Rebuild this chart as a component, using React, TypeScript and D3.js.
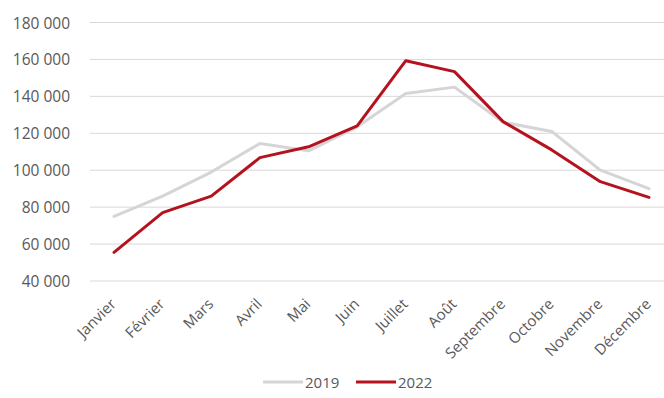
import React from "react";
import * as d3 from "d3";

const months = ["Janvier","Février","Mars","Avril","Mai","Juin","Juillet","Août","Septembre","Octobre","Novembre","Décembre"];
const values2019 = [75000, 86000, 99000, 114500, 110500, 123500, 141500, 145000, 126000, 121000, 100000, 90000];
const values2022 = [55500, 77000, 86000, 106800, 112700, 124000, 159300, 153400, 126300, 111000, 93800, 85300];
const yTicks = [40000, 60000, 80000, 100000, 120000, 140000, 160000, 180000];
const seriesNames = ["2019", "2022"];
const seriesColors = ["#d5d5d5", "#b5121f"];

const W = 664, H = 398;
const FONT = "'Open Sans', 'Noto Sans', sans-serif";

export default function App() {
  const x = d3.scalePoint<string>().domain(months).range([114, 649]);
  const y = d3.scaleLinear().domain([40000, 180000]).range([281, 22.5]);
  const fmt = (v: number) => d3.format(",")(v).replace(/,/g, "\u00a0");
  const line = d3.line<number>().x((_, i) => x(months[i])!).y((d) => y(d));
  const series = [values2019, values2022];

  return (
    <svg width={W} height={H} style={{ position: "absolute", left: 0, top: 0, background: "#fff" }} fontFamily={FONT}>
      {yTicks.map((t) => (
        <g key={t}>
          <line x1={90} x2={W} y1={y(t)} y2={y(t)} stroke="#d9d9d9" strokeWidth={1} />
          <text x={70} y={y(t)} textAnchor="end" dominantBaseline="central" fontSize={15.5} fill="#595959">{fmt(t)}</text>
        </g>
      ))}
      {months.map((m) => (
        <text key={m} transform={`translate(${x(m)! + 3},${305}) rotate(-45)`} textAnchor="end" fontSize={15} fill="#595959">{m}</text>
      ))}
      {series.map((s, i) => (
        <path key={i} d={line(s)!} fill="none" stroke={seriesColors[i]} strokeWidth={3} strokeLinejoin="round" strokeLinecap="round" />
      ))}
      {seriesNames.map((n, i) => {
        const lx = i === 0 ? 263 : 356;
        return (
          <g key={n}>
            <line x1={lx} x2={lx + 40} y1={382} y2={382} stroke={seriesColors[i]} strokeWidth={3} />
            <text x={lx + 42} y={382} dominantBaseline="central" fontSize={15} fill="#595959">{n}</text>
          </g>
        );
      })}
    </svg>
  );
}
